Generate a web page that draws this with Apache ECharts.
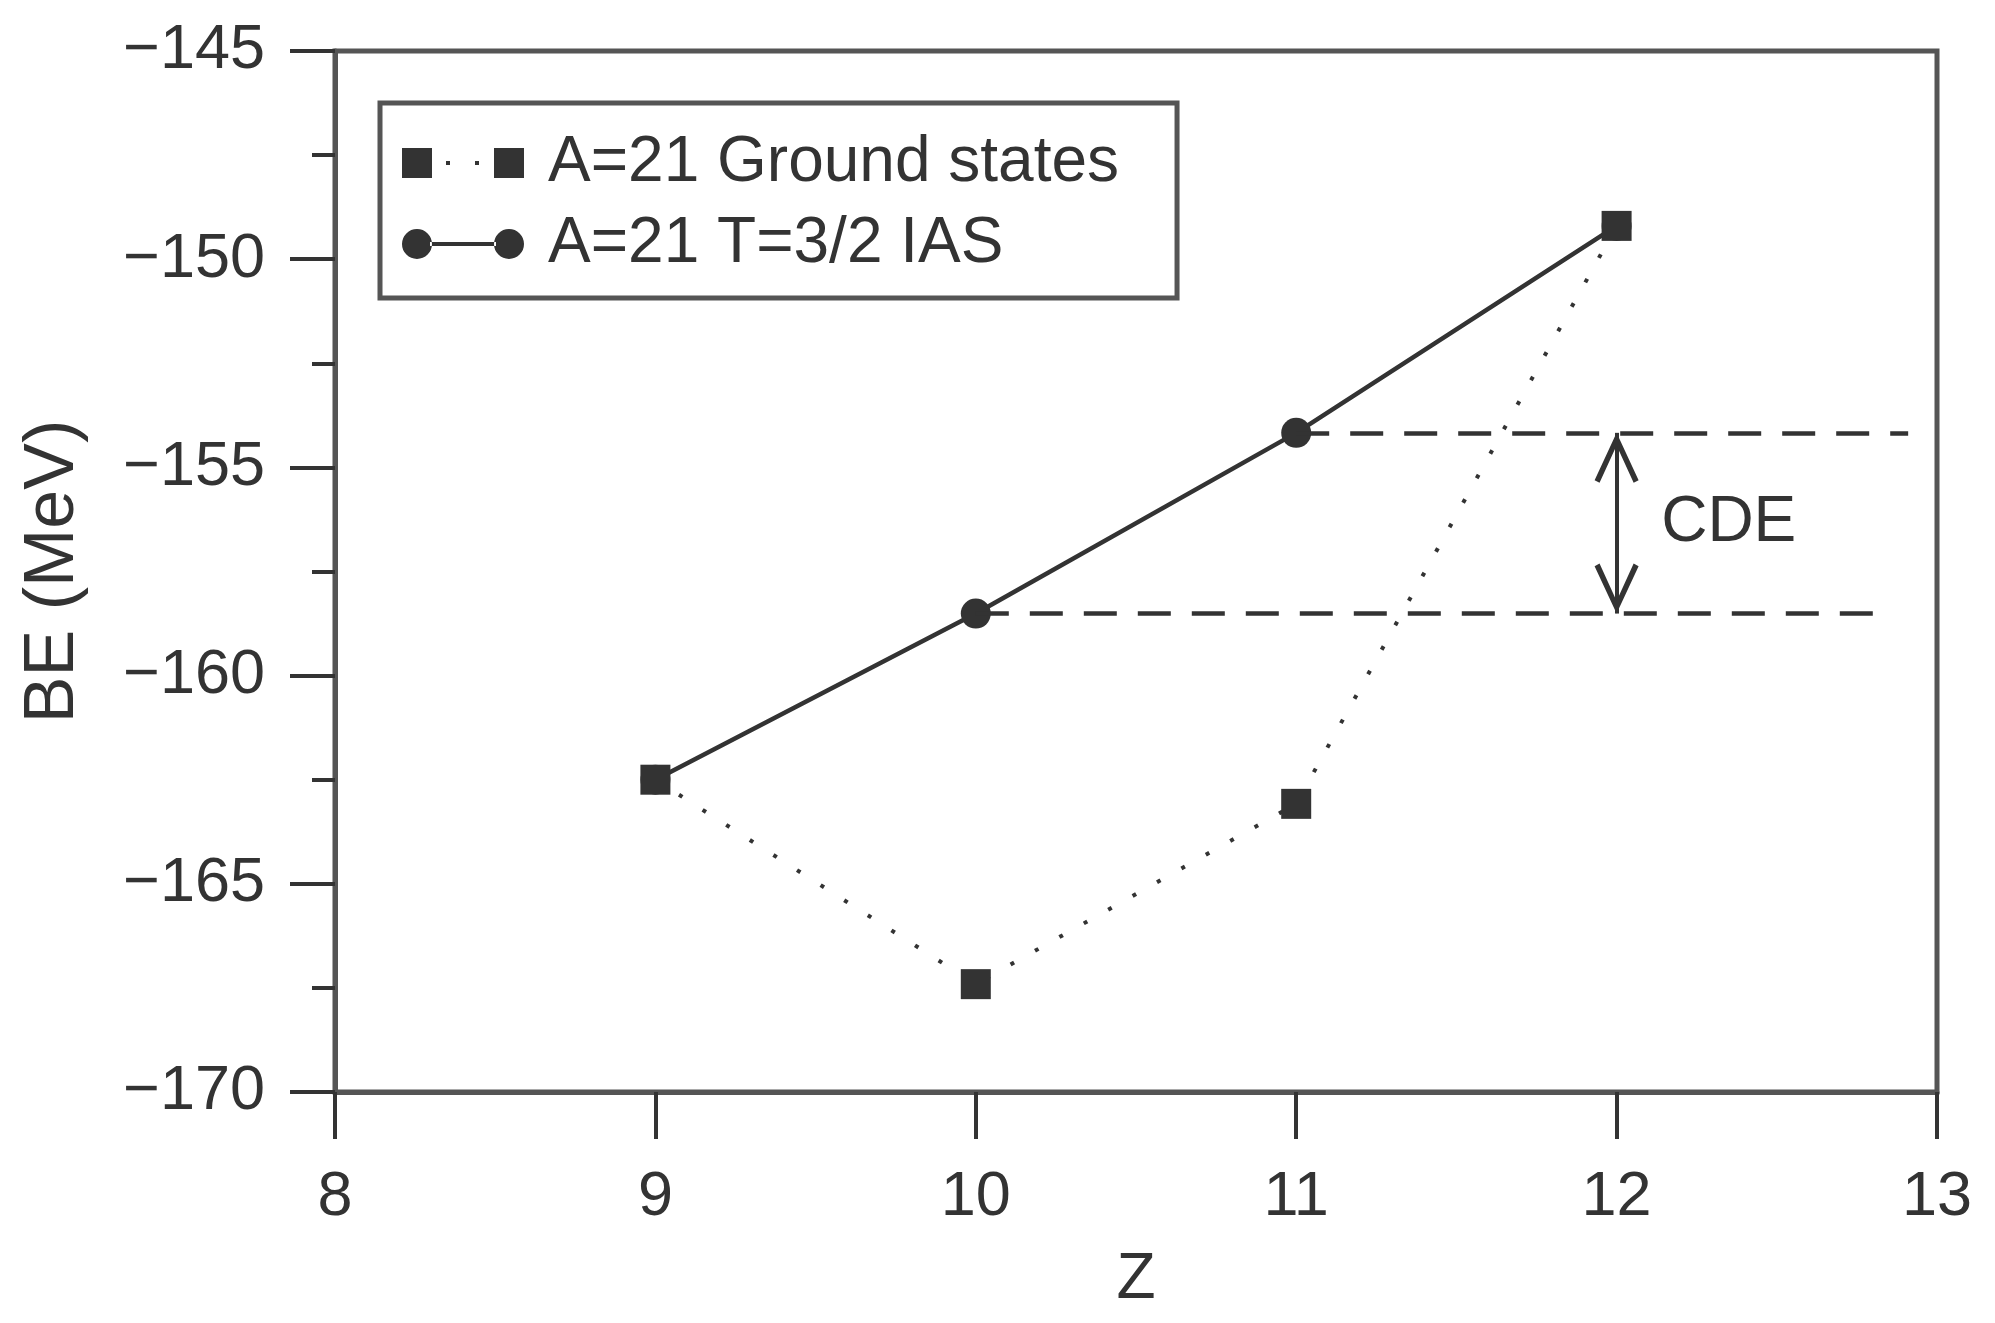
<!DOCTYPE html>
<html>
<head>
<meta charset="utf-8">
<script src="https://cdn.jsdelivr.net/npm/echarts@6/dist/echarts.min.js"></script>
<style>
  html, body { margin: 0; padding: 0; background: #fff; }
  #chart { width: 1995px; height: 1323px; }
</style>
</head>
<body>
<div id="chart"></div>
<script>
// A=21 isobar, binding energies (MeV)
var zValues = [9, 10, 11, 12];
var groundBE = [-162.50, -167.41, -163.08, -149.20];
var iasBE = [-162.50, -158.51, -154.17, -149.20];
var groundName = 'A=21 Ground states';
var iasName = 'A=21 T=3/2 IAS';
// dashed guides run out to these Z values, arrow sits at Z=12
var dashEnd = [12.85, 12.91];
var arrowZ = 12;
var cdeLabel = 'CDE';
var cdePos = [12.35, (iasBE[1] + iasBE[2]) / 2];

var FONT = 'Liberation Sans, Arial, sans-serif';
var INK = '#333';
var AXIS = '#555';

// legend icons: square..square and circle--circle
var groundIcon = 'path://M0,0h30v30h-30z M44,13h4v4h-4z M73,13h4v4h-4z M92,0h30v30h-30z';
var iasIcon = 'path://M0,15a15,15 0 1,0 30,0a15,15 0 1,0 -30,0z M28,13h66v4h-66z M92,15a15,15 0 1,0 30,0a15,15 0 1,0 -30,0z';
// open arrow head, tip at top
var chevron = 'path://M20,0L40,45L35.5,47.5L20,12L4.5,47.5L0,45Z';

function pairs(xs, ys) {
  return xs.map(function (x, i) { return [x, ys[i]]; });
}
function minus(v) {
  return String(v).replace('-', '\u2212');
}

var chart = echarts.init(document.getElementById('chart'));
chart.setOption({
  animation: false,
  backgroundColor: '#fff',
  textStyle: { fontFamily: FONT },
  grid: {
    left: 335, right: 58, top: 51, bottom: 231,
    show: true, borderColor: AXIS, borderWidth: 5
  },
  legend: {
    orient: 'vertical',
    left: 380, top: 103,
    padding: [28, 58, 22, 22],
    borderColor: AXIS, borderWidth: 5,
    backgroundColor: '#fff',
    itemWidth: 122, itemHeight: 30, itemGap: 17,
    selectedMode: false,
    textStyle: { fontSize: 64, lineHeight: 62, color: INK, fontFamily: FONT, padding: [0, 0, 0, 19] },
    data: [
      { name: groundName, icon: groundIcon },
      { name: iasName, icon: iasIcon }
    ]
  },
  xAxis: {
    type: 'value',
    min: 8, max: 13, interval: 1,
    name: 'Z',
    nameLocation: 'middle',
    nameGap: 156,
    nameTextStyle: { fontSize: 64, color: INK, fontFamily: FONT },
    axisLine: { show: true, lineStyle: { color: AXIS, width: 5 } },
    axisTick: { show: true, length: 47, lineStyle: { color: INK, width: 4 } },
    axisLabel: { fontSize: 63, color: INK, margin: 74, fontFamily: FONT },
    splitLine: { show: false }
  },
  yAxis: {
    type: 'value',
    min: -170, max: -145, interval: 5,
    name: 'BE (MeV)',
    nameLocation: 'middle',
    nameGap: 246,
    nameRotate: 90,
    nameTextStyle: { fontSize: 70, color: INK, fontFamily: FONT },
    axisLine: { show: true, lineStyle: { color: AXIS, width: 5 } },
    axisTick: { show: true, length: 45, lineStyle: { color: INK, width: 4 } },
    minorTick: { show: true, splitNumber: 2, length: 23, lineStyle: { color: INK, width: 4 } },
    axisLabel: { fontSize: 63, color: INK, margin: 70, fontFamily: FONT, formatter: minus },
    splitLine: { show: false }
  },
  series: [
    {
      name: iasName,
      type: 'line',
      z: 2,
      data: pairs(zValues, iasBE),
      symbol: 'circle',
      symbolSize: 30,
      itemStyle: { color: INK },
      lineStyle: { color: INK, width: 4.5 },
      markLine: {
        silent: true,
        symbol: 'none',
        label: { show: false },
        lineStyle: { color: INK, width: 4.5, type: [33, 21] },
        data: [
          [{ coord: [zValues[2], iasBE[2]] }, { coord: [dashEnd[1], iasBE[2]] }],
          [{ coord: [zValues[1], iasBE[1]] }, { coord: [dashEnd[0], iasBE[1]] }],
          [
            { coord: [arrowZ, iasBE[2]], symbol: chevron, symbolSize: [44, 50], symbolOffset: [0, 25],
              lineStyle: { type: 'solid', width: 4 } },
            { coord: [arrowZ, iasBE[1]], symbol: chevron, symbolSize: [44, 50], symbolOffset: [0, 25] }
          ]
        ]
      },
      markPoint: {
        silent: true,
        symbol: 'circle',
        symbolSize: 0,
        label: { show: true, position: 'inside', formatter: cdeLabel, fontSize: 64, color: INK, fontFamily: FONT },
        data: [{ coord: cdePos }]
      }
    },
    {
      name: groundName,
      type: 'line',
      z: 3,
      data: pairs(zValues, groundBE),
      symbol: 'rect',
      symbolSize: 30,
      itemStyle: { color: INK },
      lineStyle: { color: INK, width: 4, type: [4, 24] }
    }
  ]
});
</script>
</body>
</html>
